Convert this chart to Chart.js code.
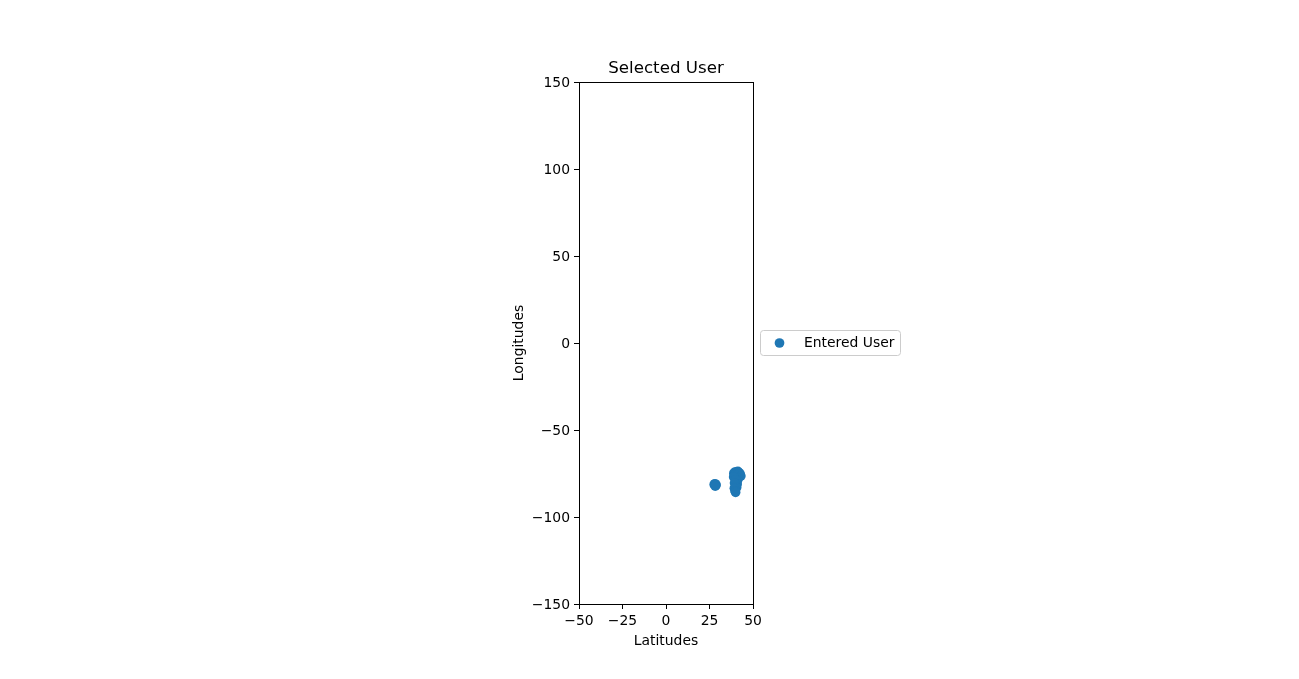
<!DOCTYPE html>
<html>
<head>
<meta charset="utf-8">
<title>Selected User</title>
<script src="https://cdn.jsdelivr.net/npm/chart.js@4"></script>
<style>
  html, body { margin: 0; background: #fff; }
  canvas { display: block; }
</style>
</head>
<body>
<canvas id="userChart" width="1299" height="679"></canvas>
<script>
const seriesName = 'Entered User';
const latitudes = [27.7, 28.8, 28.2, 28.3, 39.0, 39.6, 40.0, 40.7, 41.3, 42.0, 42.6, 43.0, 41.5, 38.9, 41.2, 40.0, 40.9, 39.4, 40.6, 39.3, 39.7, 40.0];
const longitudes = [-81.3, -81.6, -80.9, -82.2, -74.8, -74.2, -75.2, -74.0, -73.8, -74.5, -75.3, -76.5, -77.6, -77.0, -78.8, -78.6, -81.0, -80.5, -83.0, -83.5, -85.0, -85.8];
const chartTitle = 'Selected User';
const xLabel = 'Latitudes';
const yLabel = 'Longitudes';

const FONT = '"DejaVu Sans", sans-serif';
const BLUE = '#1f77b4';
const MARK_RADIUS = 4.86;

Chart.defaults.font.family = FONT;
Chart.defaults.font.size = 13.9;
Chart.defaults.color = '#000';

function tickText(v) {
    return String(v).replace('-', '\u2212');
}

// frame round the plot area, matplotlib style, snapped so it stays crisp black
const frame = {
    id: 'frame',
    afterDraw(chart) {
        const a = chart.chartArea, c = chart.ctx;
        const l = Math.floor(a.left) + 0.5, t = Math.floor(a.top) + 0.5;
        const r = Math.floor(a.right) + 0.5, b = Math.floor(a.bottom) + 0.5;
        c.save();
        c.strokeStyle = '#000';
        c.lineWidth = 1;
        c.strokeRect(l, t, r - l, b - t);
        c.restore();
    }
};

// legend box sits outside the axes, to the right
const sideLegend = {
    id: 'sideLegend',
    afterDraw(chart) {
        const c = chart.ctx, a = chart.chartArea;
        const left = a.right + 7.5, right = left + 140;
        const midY = (a.top + a.bottom) / 2;
        const top = midY - 12.5, h = 25;
        c.save();
        c.beginPath();
        c.roundRect(left, top, right - left, h, 3);
        c.strokeStyle = '#cccccc';
        c.lineWidth = 1;
        c.stroke();
        c.fillStyle = BLUE;
        c.beginPath();
        c.arc(left + 19, midY, MARK_RADIUS, 0, Math.PI * 2);
        c.fill();
        c.fillStyle = '#000';
        c.font = '13.9px ' + FONT;
        c.textBaseline = 'middle';
        c.fillText(chart.data.datasets[0].label, left + 43.5, midY);
        c.restore();
    }
};

new Chart(document.getElementById('userChart'), {
    type: 'scatter',
    data: {
        datasets: [{
            label: seriesName,
            data: latitudes.map((x, i) => ({ x: x, y: longitudes[i] })),
            backgroundColor: BLUE,
            borderColor: BLUE,
            pointRadius: MARK_RADIUS,
            borderWidth: 0
        }]
    },
    options: {
        responsive: false,
        animation: false,
        devicePixelRatio: 1,
        layout: { padding: { left: 511, right: 546, top: 59, bottom: 29 } },
        plugins: {
            legend: { display: false },
            tooltip: { enabled: false },
            title: {
                display: true,
                text: chartTitle,
                fullSize: false,
                color: '#000',
                font: { size: 16.67, weight: 'normal' },
                padding: { top: 0, bottom: 3 }
            }
        },
        scales: {
            x: {
                type: 'linear',
                min: -50,
                max: 50,
                ticks: { stepSize: 25, maxRotation: 0, padding: 4, callback: tickText },
                grid: { drawOnChartArea: false, color: '#000', tickLength: 5 },
                border: { display: false },
                title: { display: true, text: xLabel, padding: { top: 2, bottom: 0 } },
                afterFit(scale) { scale.height = 46; }
            },
            y: {
                type: 'linear',
                min: -150,
                max: 150,
                ticks: { stepSize: 50, padding: 4, labelOffset: 1, callback: tickText },
                grid: { drawOnChartArea: false, color: '#000', tickLength: 5 },
                border: { display: false },
                title: { display: true, text: yLabel, padding: { top: 0, bottom: 0 } },
                afterFit(scale) { scale.width = 68; }
            }
        }
    },
    plugins: [frame, sideLegend]
});
</script>
</body>
</html>
